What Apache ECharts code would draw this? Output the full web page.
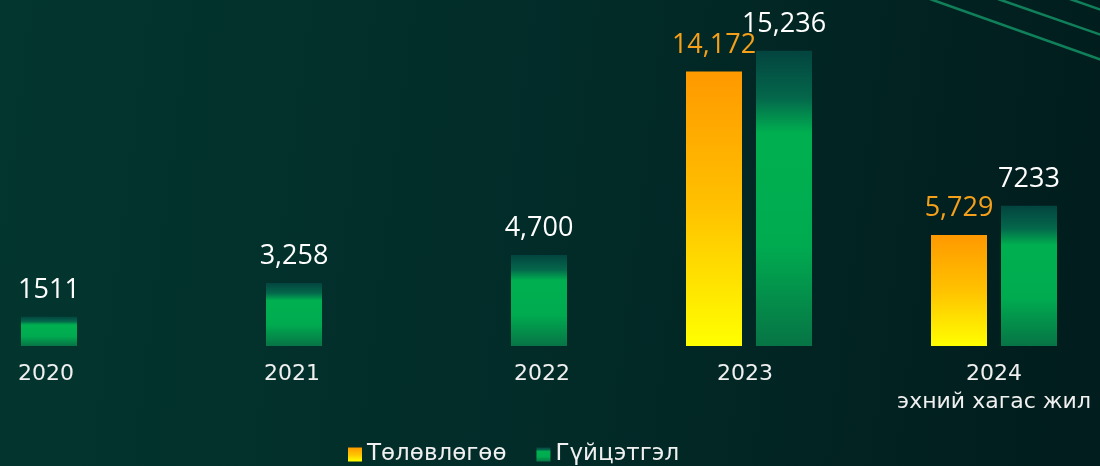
<!DOCTYPE html>
<html>
<head>
<meta charset="utf-8">
<script src="https://cdn.jsdelivr.net/npm/echarts@6/dist/echarts.min.js"></script>
<style>
    html, body { margin: 0; padding: 0; background: #022a28; }
    #mainChartBlock { width: 1100px; height: 466px; }
</style>
</head>
<body>
<div id="mainChartBlock"></div>
<script>
var years = ['2020', '2021', '2022', '2023', '2024\nэхний хагас жил'];
var planValues = [null, null, null, 14172, 5729];
var actualValues = [1511, 3258, 4700, 15236, 7233];
var planLabels = ['', '', '', '14,172', '5,729'];
var actualLabels = ['1511', '3,258', '4,700', '15,236', '7233'];
var seriesNames = ['Төлөвлөгөө', 'Гүйцэтгэл'];

// year captions sit under the single green bar for the first years
var labelPad = [[0, 0, 0, 64], [0, 0, 0, 66], [0, 0, 0, 76], [0, 8, 0, 0], [0, 0, 0, 0]];

var orangeFill = new echarts.graphic.LinearGradient(0, 0, 0, 1, [
    { offset: 0, color: '#ff9900' },
    { offset: 0.5, color: '#ffc200' },
    { offset: 1, color: '#ffff00' }
]);
var greenFill = new echarts.graphic.LinearGradient(0, 0, 0, 1, [
    { offset: 0, color: '#03443f' },
    { offset: 0.16, color: '#04674b' },
    { offset: 0.28, color: '#00b050' },
    { offset: 0.66, color: '#00ab50' },
    { offset: 1, color: '#077445' }
]);

var myChart = echarts.init(document.getElementById('mainChartBlock'));
var option = {
    backgroundColor: new echarts.graphic.LinearGradient(0, 0, 1, 0.3, [
        { offset: 0, color: '#03362f' },
        { offset: 0.55, color: '#022b28' },
        { offset: 1, color: '#011d1d' }
    ]),
    textStyle: { fontFamily: 'Open Sans' },
    graphic: [
        { type: 'line', shape: { x1: 930, y1: -1, x2: 1110, y2: 63 }, style: { stroke: '#10805a', lineWidth: 2.5 } },
        { type: 'line', shape: { x1: 998, y1: -1, x2: 1110, y2: 38 }, style: { stroke: '#10805a', lineWidth: 2.5 } },
        { type: 'line', shape: { x1: 1070, y1: -1, x2: 1110, y2: 13 }, style: { stroke: '#10805a', lineWidth: 2.5 } }
    ],
    legend: {
        data: seriesNames,
        left: 343,
        top: 438,
        itemWidth: 14,
        itemHeight: 14,
        itemGap: 30,
        icon: 'rect',
        textStyle: { color: '#f0f0f0', fontSize: 23, fontFamily: 'DejaVu Sans' }
    },
    grid: {
        left: -108.5,
        width: 1225,
        top: 36,
        bottom: 120,
        containLabel: false,
        outerBoundsMode: 'none'
    },
    xAxis: {
        type: 'category',
        data: years.map(function (y, i) {
            return { value: y, textStyle: { padding: labelPad[i] } };
        }),
        axisLine: { show: false },
        axisTick: { show: false },
        axisLabel: {
            color: '#f0f0f0',
            fontSize: 22,
            fontFamily: 'DejaVu Sans',
            lineHeight: 28,
            margin: 14,
            interval: 0
        }
    },
    yAxis: {
        type: 'value',
        min: 0,
        max: 16000,
        show: false,
        splitLine: { show: false }
    },
    series: [
        {
            name: seriesNames[0],
            type: 'bar',
            data: planValues,
            barWidth: 56,
            barGap: '25%',
            itemStyle: { color: orangeFill },
            label: {
                show: true,
                position: 'top',
                distance: 13,
                color: '#f5a01a',
                fontSize: 27,
                formatter: function (p) { return planLabels[p.dataIndex]; }
            }
        },
        {
            name: seriesNames[1],
            type: 'bar',
            data: actualValues,
            barWidth: 56,
            barGap: '25%',
            itemStyle: { color: greenFill },
            label: {
                show: true,
                position: 'top',
                distance: 13,
                color: '#ffffff',
                fontSize: 27,
                formatter: function (p) { return actualLabels[p.dataIndex]; }
            }
        }
    ]
};
myChart.setOption(option);
</script>
</body>
</html>
